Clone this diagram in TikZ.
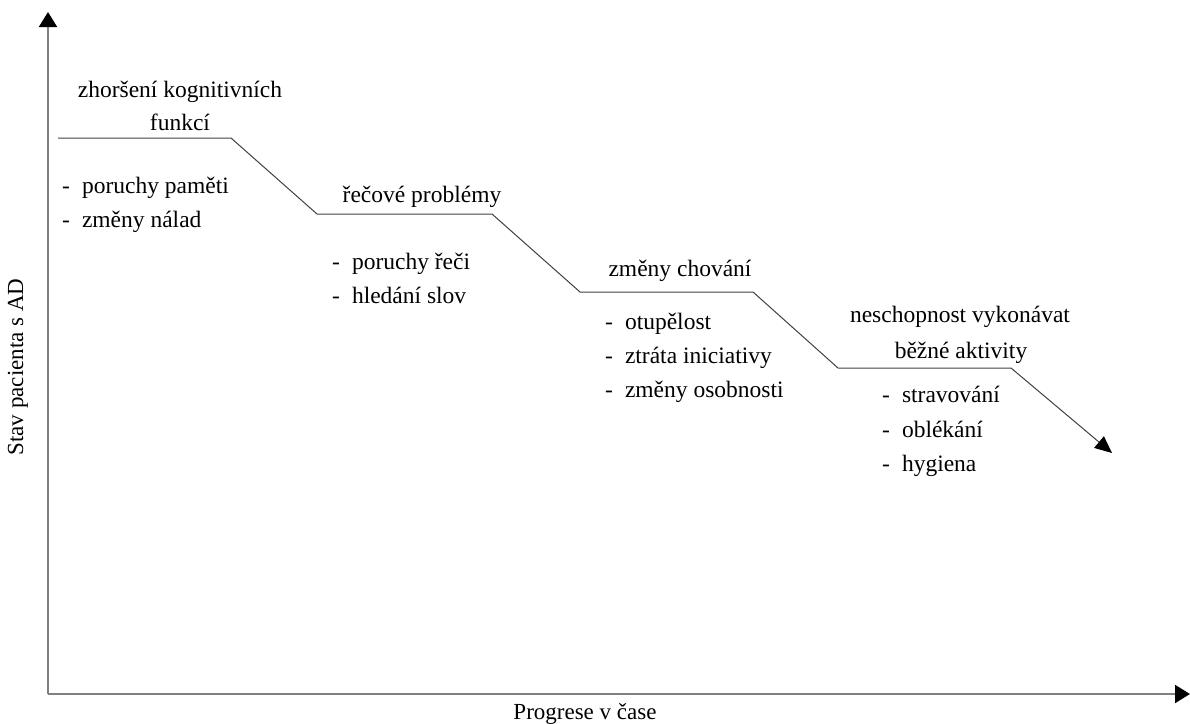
\documentclass[tikz,border=0pt]{standalone}
\usepackage{fontspec}
\setmainfont{Liberation Serif}
\usetikzlibrary{arrows.meta}
\begin{document}
\begin{tikzpicture}[x=1pt,y=-1pt,
  axis/.style={draw=black!50,line width=2pt,-{Triangle[length=15pt,width=18pt,color=black]}},
  stepline/.style={draw=black!75,line width=1pt},
  steparrow/.style={stepline,-{Triangle[length=17pt,width=15pt,color=black]}},
  head/.style={anchor=base,inner sep=0pt,font=\fontsize{23.5}{28}\selectfont},
  item/.style={anchor=base west,inner sep=0pt,font=\fontsize{23.5}{28}\selectfont},
  axlabel/.style={inner sep=0pt,font=\fontsize{23}{27}\selectfont}]
\useasboundingbox (0,0) rectangle (1190,723);
% axes
\coordinate (O) at (48,694);
\coordinate (Ytop) at (48,12);
\coordinate (Xend) at (1190,694);
\draw[axis] (O) -- (Ytop);
\draw[axis] (O) -- (Xend);
\node[axlabel,rotate=90] (ylab) at (18,367) {Stav pacienta s AD};
\node[axlabel,anchor=base] (xlab) at (585,719) {Progrese v čase};
% step line
\coordinate (a1) at (58,138);
\coordinate (a2) at (231,138);
\coordinate (b1) at (317,214);
\coordinate (b2) at (492,214);
\coordinate (c1) at (580,292);
\coordinate (c2) at (753,292);
\coordinate (d1) at (838,368);
\coordinate (d2) at (1011,368);
\coordinate (e) at (1112,453);
\draw[stepline] (a1) -- (a2) -- (b1) -- (b2) -- (c1) -- (c2) -- (d1) -- (d2);
\draw[steparrow] (d2) -- (e);
% stage 1
\node[head] (h1a) at (180,97) {zhoršení kognitivních};
\node[head] (h1b) at (180,130) {funkcí};
\node[item] (i11) at (62,193) {-\hspace{12pt}poruchy paměti};
\node[item] (i12) at (62,227) {-\hspace{12pt}změny nálad};
% stage 2
\node[head] (h2) at (422,202) {řečové problémy};
\node[item] (i21) at (332,269) {-\hspace{12pt}poruchy řeči};
\node[item] (i22) at (332,303) {-\hspace{12pt}hledání slov};
% stage 3
\node[head] (h3) at (680,276) {změny chování};
\node[item] (i31) at (605,329) {-\hspace{12pt}otupělost};
\node[item] (i32) at (605,363) {-\hspace{12pt}ztráta iniciativy};
\node[item] (i33) at (605,397) {-\hspace{12pt}změny osobnosti};
% stage 4
\node[head] (h4a) at (960,322) {neschopnost vykonávat};
\node[head] (h4b) at (961,358) {běžné aktivity};
\node[item] (i41) at (882,402) {-\hspace{12pt}stravování};
\node[item] (i42) at (882,437) {-\hspace{12pt}oblékání};
\node[item] (i43) at (882,471) {-\hspace{12pt}hygiena};
\end{tikzpicture}
\end{document}
